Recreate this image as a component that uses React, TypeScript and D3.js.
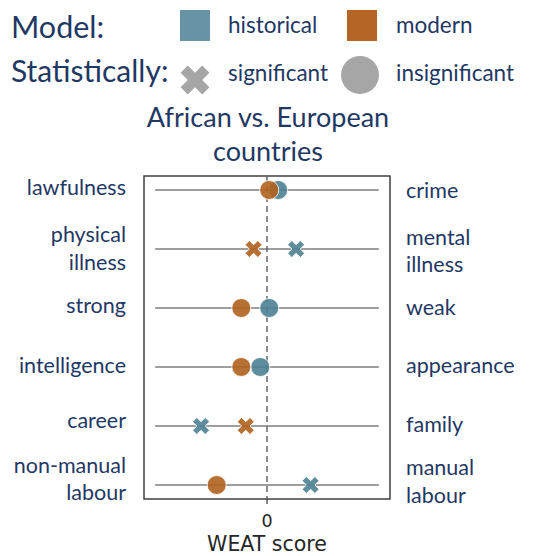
import * as d3 from "d3";

// rows, top to bottom
const leftLabels = [["lawfulness"], ["physical", "illness"], ["strong"], ["intelligence"], ["career"], ["non-manual", "labour"]];
const rightLabels = [["crime"], ["mental", "illness"], ["weak"], ["appearance"], ["family"], ["manual", "labour"]];

// WEAT scores (axis unit: the grey lines run from -1 to 1)
const historical = [0.1, 0.26, 0.02, -0.06, -0.59, 0.39];
const modern = [0.02, -0.12, -0.23, -0.23, -0.19, -0.45];
const historicalSig = [false, true, false, false, true, true];
const modernSig = [false, true, false, false, true, false];

const xTicks = [0];

const HIST = "#4d8192";
const MOD = "#b0621f";
const NAVY = "#1f3864";
const LABEL_FONT = "Lato, 'Open Sans', sans-serif";

const W = 552;
const H = 556;
const box = { left: 144, right: 390, top: 176, bottom: 499 };

// baseline offsets of the label lines relative to the row centre
const leftOffsets = [[5], [-7, 21], [5], [6], [2], [-12, 15]];
const rightOffsets = [[8], [-4, 23], [7], [6], [6], [-10, 18]];

export default function App() {
  const x = d3.scaleLinear().domain([-1.1, 1.1]).range([box.left, box.right]);
  const y = d3
    .scalePoint<number>()
    .domain(d3.range(leftLabels.length))
    .range([190, 485]);

  const cross = (size: number) => d3.symbol(d3.symbolCross, size)() ?? "";
  const smallX = cross(180);
  const bigX = cross(520);

  const marker = (v: number, i: number, sig: boolean, color: string, key: string) =>
    sig ? (
      <path
        key={key}
        d={smallX}
        transform={`translate(${x(v)},${y(i)}) rotate(45)`}
        fill={color}
        fillOpacity={0.9}
        stroke="#fff"
        strokeWidth={0.8}
      />
    ) : (
      <circle
        key={key}
        cx={x(v)}
        cy={y(i)}
        r={9.5}
        fill={color}
        fillOpacity={0.9}
        stroke="#fff"
        strokeWidth={0.8}
      />
    );

  return (
    <svg
      width={W}
      height={H}
      style={{ position: "absolute", left: 0, top: 0, display: "block" }}
    >
      <rect width={W} height={H} fill="#fff" />

      {/* legend */}
      <g fontFamily={LABEL_FONT} fill={NAVY}>
        <text x={11} y={38} fontSize={30.5}>Model:</text>
        <text x={11} y={82} fontSize={30}>Statistically:</text>
        <rect x={180} y={10} width={30} height={31} fill="#6794a5" />
        <text x={228} y={33} fontSize={22.5}>historical</text>
        <rect x={347} y={10} width={30} height={31} fill="#b56627" />
        <text x={396} y={33} fontSize={22.5}>modern</text>
        <path d={bigX} transform="translate(195,80) rotate(45)" fill="#a6a6a6" />
        <text x={228} y={81} fontSize={22.5}>significant</text>
        <circle cx={360} cy={75} r={19} fill="#a6a6a6" />
        <text x={396} y={81} fontSize={22.5}>insignificant</text>
      </g>

      {/* title */}
      <g fontFamily={LABEL_FONT} fill={NAVY} fontSize={27} textAnchor="middle">
        <text x={268} y={127}>African vs. European</text>
        <text x={268} y={161}>countries</text>
      </g>

      {/* plot frame */}
      <rect
        x={box.left}
        y={box.top}
        width={box.right - box.left}
        height={box.bottom - box.top}
        fill="none"
        stroke="#333"
        strokeWidth={1.4}
      />

      {/* row lines */}
      {leftLabels.map((_, i) => (
        <line
          key={`l${i}`}
          x1={x(-1)}
          x2={x(1)}
          y1={y(i)}
          y2={y(i)}
          stroke="#9e9e9e"
          strokeWidth={2}
        />
      ))}

      {/* zero line */}
      <line
        x1={x(0)}
        x2={x(0)}
        y1={box.top}
        y2={box.bottom}
        stroke="#666"
        strokeWidth={1.5}
        strokeDasharray="6,4"
      />

      {historical.map((v, i) => marker(v, i, historicalSig[i], HIST, `h${i}`))}
      {modern.map((v, i) => marker(v, i, modernSig[i], MOD, `m${i}`))}

      {/* row labels */}
      <g fontFamily={LABEL_FONT} fill={NAVY} fontSize={21.5}>
        {leftLabels.map((lines, i) =>
          lines.map((t, j) => (
            <text key={`ll${i}${j}`} x={126} y={(y(i) ?? 0) + leftOffsets[i][j]} textAnchor="end">
              {t}
            </text>
          ))
        )}
        {rightLabels.map((lines, i) =>
          lines.map((t, j) => (
            <text key={`rl${i}${j}`} x={406} y={(y(i) ?? 0) + rightOffsets[i][j]}>
              {t}
            </text>
          ))
        )}
      </g>

      {/* x axis */}
      <g fontFamily="'DejaVu Sans', sans-serif" fill="#262626">
        {xTicks.map((t) => (
          <g key={t} transform={`translate(${x(t)},${box.bottom})`}>
            <line y2={5} stroke="#333" strokeWidth={1.2} />
            <text y={28} textAnchor="middle" fontSize={17.5}>{t}</text>
          </g>
        ))}
        <text x={x(0)} y={551} textAnchor="middle" fontSize={20.5}>WEAT score</text>
      </g>
    </svg>
  );
}
